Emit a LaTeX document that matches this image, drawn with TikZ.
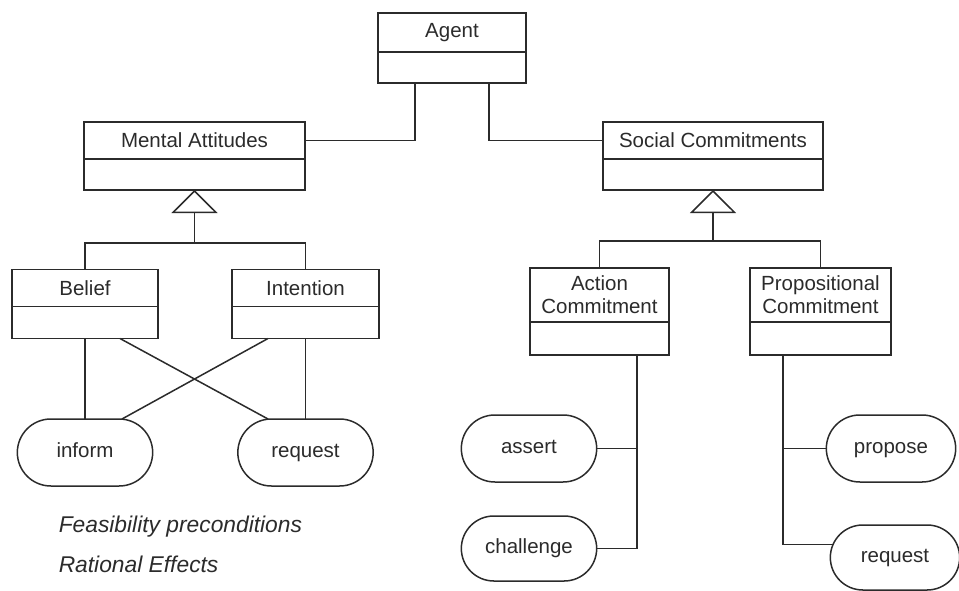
\documentclass[tikz,border=0pt]{standalone}
\usepackage{fontspec}
\setmainfont{Liberation Sans}
\usetikzlibrary{positioning,shapes.misc,arrows.meta}

\definecolor{ink}{HTML}{2B2B2B}

\tikzset{
  classname/.style={draw=ink, rectangle, outer sep=0pt, inner sep=2pt,
    minimum height=37pt, align=center, font=\fontsize{20.5}{23}\selectfont},
  classbody/.style={draw=ink, rectangle, outer sep=0pt, minimum height=31pt},
  speechact/.style={draw=ink, rounded rectangle, outer sep=0pt,
    minimum width=142pt, minimum height=67pt, text height=15pt, text depth=4.5pt,
    font=\fontsize{20.5}{23}\selectfont},
  link/.style={draw=ink},
  isa/.style={draw=ink, -{Triangle[open, length=23pt, width=46pt]}},
  note/.style={anchor=base west, inner sep=0pt,
    font=\fontsize{22.8}{26}\selectfont\itshape},
}

\begin{document}
\begin{tikzpicture}[x=1pt,y=-1pt,line width=1.5pt,text=ink]
	\useasboundingbox (0,0) rectangle (959,591);
	% classes
	\node[classname, minimum width=148pt, minimum height=39pt] (agent) at (452,32.5) {Agent};
	\node[classbody, minimum width=148pt, below=0pt of agent] (agentb) {};
	\node[classname, minimum width=221pt] (ma) at (194.5,140.5) {Mental Attitudes};
	\node[classbody, minimum width=221pt, below=0pt of ma] (mab) {};
	\node[classname, minimum width=220pt] (sc) at (713,140.5) {Social Commitments};
	\node[classbody, minimum width=220pt, below=0pt of sc] (scb) {};
	\node[classname, minimum width=146pt] (belief) at (85,288) {Belief};
	\node[classbody, minimum width=146pt, minimum height=32pt, below=0pt of belief] (beliefb) {};
	\node[classname, minimum width=147pt] (intention) at (305.5,288) {Intention};
	\node[classbody, minimum width=147pt, minimum height=32pt, below=0pt of intention] (intentionb) {};
	\node[classname, minimum width=139pt, minimum height=54pt] (action) at (599.5,295) {Action\\Commitment};
	\node[classbody, minimum width=139pt, minimum height=33pt, below=0pt of action] (actionb) {};
	\node[classname, minimum width=141pt, minimum height=54pt] (prop) at (820.5,295) {Propositional\\Commitment};
	\node[classbody, minimum width=141pt, minimum height=33pt, below=0pt of prop] (propb) {};
	% speech acts
	\node[speechact] (inform) at (85,452.5) {inform};
	\node[speechact] (request) at (305.5,452.5) {request};
	\node[speechact] (assert) at (529,448.5) {assert};
	\node[speechact, minimum height=65pt] (challenge) at (529,548.5) {challenge};
	\node[speechact, minimum width=136pt] (propose) at (891,448.5) {propose};
	\node[speechact, minimum width=136pt, minimum height=65pt] (preq) at (895,557.5) {request};
	% notes
	\node[note] (feas) at (58,532) {Feasibility preconditions};
	\node[note] (reff) at (58,572) {Rational Effects};
	% agent links
	\draw[link] ([xshift=-37pt]agentb.south) |- (ma.east);
	\draw[link] ([xshift=37pt]agentb.south) |- (sc.west);
	% generalisation
	\coordinate (mjoin) at (194.5,243);
	\draw[link] (belief.north) |- (mjoin) -| (intention.north);
	\draw[isa] (mjoin) -- (mab.south);
	\coordinate (sjoin) at (713,241);
	\draw[link] (action.north) |- (sjoin) -| (prop.north);
	\draw[isa] (sjoin) -- (scb.south);
	% mental attitudes to acts
	\draw[link] (beliefb.south) -- (inform.north);
	\draw[link] (intentionb.south) -- (request.north);
	\draw[link] ([xshift=35pt]beliefb.south) -- ([xshift=-37.5pt]request.north);
	\draw[link] ([xshift=-37.5pt]intentionb.south) -- ([xshift=37pt]inform.north);
	% commitments to acts
	\draw[link] ([xshift=37.5pt]actionb.south) coordinate (aspine) |- (challenge.east);
	\draw[link] (assert.east) -- (assert.east -| aspine);
	\draw[link] ([xshift=-37.5pt]propb.south) coordinate (pspine) |- (preq.168);
	\draw[link] (propose.west) -- (propose.west -| pspine);
\end{tikzpicture}
\end{document}
